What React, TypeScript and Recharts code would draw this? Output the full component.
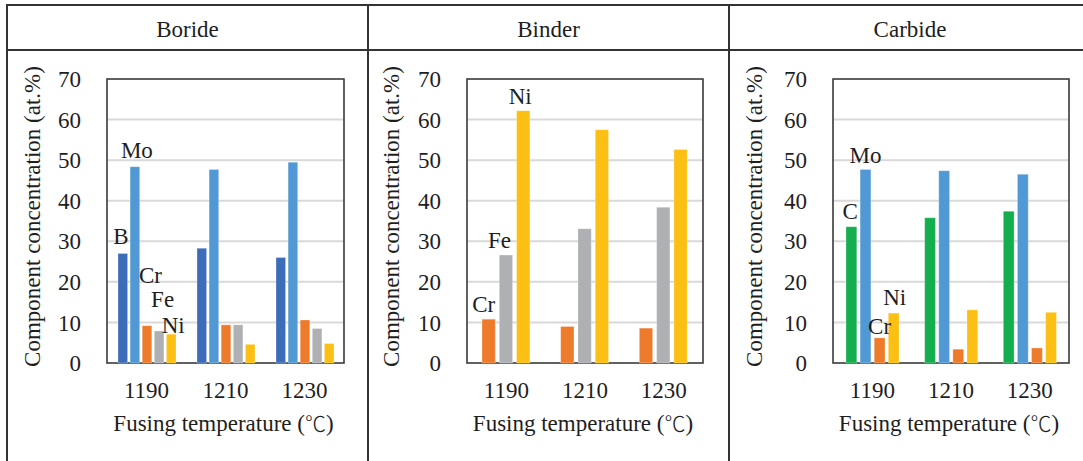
import React from 'react';
import { BarChart, Bar, XAxis, YAxis, CartesianGrid, LabelList, ReferenceArea } from 'recharts';

const FONT = "'Liberation Serif', 'Times New Roman', 'DejaVu Serif', serif";
const CJK_FONT = "'Noto Sans CJK JP', 'Noto Sans CJK SC', sans-serif";
const TEXT = '#1e1e1e';
const LINE = '#333333';

// categories
const temperatures = ['1190', '1210', '1230'];
const yTicks = [0, 10, 20, 30, 40, 50, 60, 70];
const panelTitles = ['Boride', 'Binder', 'Carbide'];
const yTitle = 'Component concentration (at.%)';
const xTitlePre = 'Fusing temperature (';
const xTitleUnit = '\u2103';
const xTitlePost = ')';

// Boride phase (at.%)
const borideB = [27.0, 28.3, 26.0];
const borideMo = [48.4, 47.7, 49.5];
const borideCr = [9.2, 9.4, 10.6];
const borideFe = [7.9, 9.4, 8.5];
const borideNi = [7.1, 4.6, 4.8];

// Binder phase (at.%)
const binderCr = [10.8, 9.0, 8.6];
const binderFe = [26.6, 33.1, 38.4];
const binderNi = [62.2, 57.5, 52.6];

// Carbide phase (at.%)
const carbideC = [33.6, 35.8, 37.4];
const carbideMo = [47.7, 47.4, 46.5];
const carbideCr = [6.2, 3.4, 3.7];
const carbideNi = [12.3, 13.1, 12.5];

const COLORS = {
  B: '#3d6cb9',
  Mo: '#5099d4',
  Cr: '#ee7b2b',
  Fe: '#afb0b4',
  Ni: '#fcbf14',
  C: '#14ae4e',
};

type SeriesDef = { key: string; name: string; values: number[]; color: string; dx: number; dy: number };

type PanelDef = {
  colX: number;
  yAxisWidth: number;
  marginRight: number;
  barSize: number;
  barGap: number;
  yLabelX: number;
  series: SeriesDef[];
};

const panels: PanelDef[] = [
  {
    colX: 7,
    yAxisWidth: 100,
    marginRight: 24,
    barSize: 9.6,
    barGap: 2.5,
    yLabelX: 25,
    series: [
      { key: 'B', name: 'B', values: borideB, color: COLORS.B, dx: -2, dy: -9 },
      { key: 'Mo', name: 'Mo', values: borideMo, color: COLORS.Mo, dx: 2, dy: -8.5 },
      { key: 'Cr', name: 'Cr', values: borideCr, color: COLORS.Cr, dx: 3.5, dy: -43 },
      { key: 'Fe', name: 'Fe', values: borideFe, color: COLORS.Fe, dx: 3.5, dy: -24.3 },
      { key: 'Ni', name: 'Ni', values: borideNi, color: COLORS.Ni, dx: 2, dy: -1.6 },
    ],
  },
  {
    colX: 368,
    yAxisWidth: 99,
    marginRight: 26,
    barSize: 13.3,
    barGap: 4,
    yLabelX: 23,
    series: [
      { key: 'Cr', name: 'Cr', values: binderCr, color: COLORS.Cr, dx: -5, dy: -6.7 },
      { key: 'Fe', name: 'Fe', values: binderFe, color: COLORS.Fe, dx: -6.5, dy: -6.7 },
      { key: 'Ni', name: 'Ni', values: binderNi, color: COLORS.Ni, dx: -3, dy: -6.7 },
    ],
  },
  {
    colX: 729,
    yAxisWidth: 104,
    marginRight: 21,
    barSize: 10.8,
    barGap: 3.3,
    yLabelX: 25,
    series: [
      { key: 'C', name: 'C', values: carbideC, color: COLORS.C, dx: -1.3, dy: -7.4 },
      { key: 'Mo', name: 'Mo', values: carbideMo, color: COLORS.Mo, dx: 0, dy: -6.4 },
      { key: 'Cr', name: 'Cr', values: carbideCr, color: COLORS.Cr, dx: 0, dy: -4 },
      { key: 'Ni', name: 'Ni', values: carbideNi, color: COLORS.Ni, dx: 1, dy: -8 },
    ],
  },
];

function buildRows(series: SeriesDef[]) {
  return temperatures.map((t, i) => {
    const row: Record<string, any> = { t };
    series.forEach((s) => {
      row[s.key] = s.values[i];
    });
    return row;
  });
}

const makeLabel = (s: SeriesDef) => (p: any) => {
  if (p.index !== 0) return null;
  const cx = Number(p.x) + Number(p.width) / 2 + s.dx;
  const by = Number(p.y) + s.dy;
  return (
    <text x={cx} y={by} textAnchor="middle" fontFamily={FONT} fontSize={23} fill={TEXT}>
      {s.name}
    </text>
  );
};

const makeYTitle = (offsetX: number) => (p: any) => {
  const vb = p.viewBox || { x: 0, y: 29, width: 100, height: 284 };
  const cx = vb.x + offsetX;
  const cy = vb.y + vb.height / 2 - 4.5;
  return (
    <text
      x={cx}
      y={cy}
      transform={`rotate(-90 ${cx} ${cy})`}
      textAnchor="middle"
      dominantBaseline="central"
      fontFamily={FONT}
      fontSize={23}
      fill={TEXT}
    >
      {yTitle}
    </text>
  );
};

const xTitleLabel = (p: any) => {
  const vb = p.viewBox || { x: 100, y: 313, width: 237, height: 98 };
  const cx = vb.x + vb.width / 2 - 2;
  const by = vb.y + 68;
  return (
    <text x={cx} y={by} textAnchor="middle" fontFamily={FONT} fontSize={23} fill={TEXT}>
      {xTitlePre}
      <tspan fontFamily={CJK_FONT} fontSize={21} fontWeight={300}>
        {xTitleUnit}
      </tspan>
      {xTitlePost}
    </text>
  );
};

function Panel({ def }: { def: PanelDef }) {
  const rows = buildRows(def.series);
  const tickStyle = { fontFamily: FONT, fontSize: 23, fill: TEXT };
  return (
    <div style={{ position: 'absolute', left: def.colX, top: 50 }}>
      <BarChart
        width={361}
        height={411}
        data={rows}
        margin={{ top: 29, right: def.marginRight, bottom: 0, left: 0 }}
        barSize={def.barSize}
        barGap={def.barGap}
      >
        <CartesianGrid vertical={false} stroke="#d9d9d9" strokeWidth={2} />
        <XAxis
          dataKey="t"
          axisLine={false}
          tickLine={false}
          tickSize={0}
          tickMargin={19}
          height={98}
          interval={0}
          tick={tickStyle}
          label={xTitleLabel}
        />
        <YAxis
          domain={[0, 70]}
          ticks={yTicks}
          width={def.yAxisWidth}
          axisLine={false}
          tickLine={false}
          tickSize={0}
          tickMargin={26}
          interval={0}
          tick={tickStyle}
          label={makeYTitle(def.yLabelX)}
        />
        {def.series.map((s) => (
          <Bar
            key={s.key}
            dataKey={s.key}
            fill={s.color}
            stroke="#ffffff"
            strokeOpacity={0.35}
            strokeWidth={0.8}
            isAnimationActive={false}
          >
            <LabelList content={makeLabel(s)} />
          </Bar>
        ))}
        <ReferenceArea
          x1={temperatures[0]}
          x2={temperatures[temperatures.length - 1]}
          y1={0}
          y2={70}
          fill="none"
          fillOpacity={0}
          stroke="#3a3a3a"
          strokeWidth={1.6}
          ifOverflow="visible"
        />
      </BarChart>
    </div>
  );
}

export default function App() {
  const colXs = [7, 368, 729];
  const titleCenters = [187.5, 548.5, 910];
  return (
    <div
      style={{
        position: 'absolute',
        left: 0,
        top: 0,
        width: 1083,
        height: 461,
        background: '#ffffff',
        overflow: 'hidden',
      }}
    >
      <svg width={1083} height={461} style={{ position: 'absolute', left: 0, top: 0 }}>
        <line x1={6} y1={5} x2={1083} y2={5} stroke={LINE} strokeWidth={2} />
        <line x1={6} y1={50} x2={1083} y2={50} stroke={LINE} strokeWidth={2} />
        {colXs.map((x) => (
          <line key={x} x1={x} y1={4} x2={x} y2={461} stroke={LINE} strokeWidth={2} />
        ))}
        {panelTitles.map((t, i) => (
          <text
            key={t}
            x={titleCenters[i]}
            y={37}
            textAnchor="middle"
            fontFamily={FONT}
            fontSize={23}
            fill={TEXT}
          >
            {t}
          </text>
        ))}
      </svg>
      {panels.map((p, i) => (
        <Panel key={i} def={p} />
      ))}
    </div>
  );
}
